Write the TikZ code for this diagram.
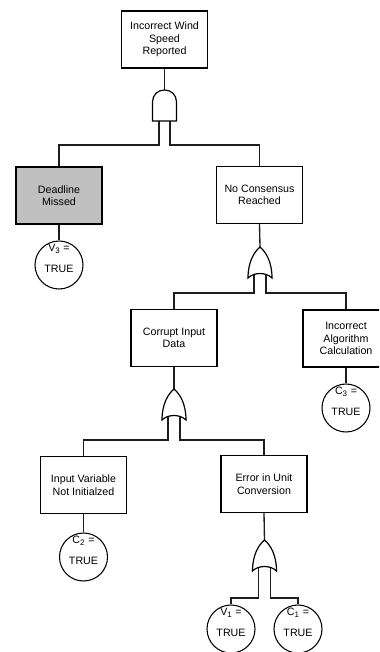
\documentclass[tikz,border=0pt]{standalone}
\usepackage{fontspec}
\setmainfont{Liberation Sans}
\usetikzlibrary{calc}
\definecolor{shade}{RGB}{192,192,192}
\definecolor{wirecol}{RGB}{30,30,30}
\begin{document}
\begin{tikzpicture}[x=0.75pt,y=-0.75pt,
  txt/.style={font=\fontsize{8}{9.4}\selectfont},
  event/.style={txt, draw, line width=0.9pt, minimum width=64.5pt,
    minimum height=42.75pt, align=center, inner sep=1pt, fill=white},
  basic/.style={draw, circle, line width=0.8pt, minimum size=36pt,
    inner sep=0pt, fill=white},
  gate/.style={draw, line width=0.9pt, fill=white},
  wire/.style={line width=1pt, draw=wirecol},
  andgate/.pic={
    \draw[gate] (-12,31) -- (-12,12) .. controls (-12,5) and (-7,0) .. (0,0)
      .. controls (7,0) and (12,5) .. (12,12) -- (12,31) -- cycle;
  },
  orgate/.pic={
    \draw[gate] (-12,31) .. controls (-12,15) and (-6,5) .. (0,0)
      .. controls (6,5) and (12,15) .. (12,31)
      .. controls (6,25) and (-6,25) .. cycle;
  },
]
\useasboundingbox (0,0) rectangle (379,652);
\clip (0,0) rectangle (379,652);
\fill[white] (0,0) rectangle (379,652);

% events
\node[event] (top) at (164.5,39.5) {Incorrect Wind\\Speed\\Reported};
\node[event, fill=shade] (dm) at (59,195.5) {Deadline\\Missed};
\node[event] (nc) at (259.5,195) {No Consensus\\Reached};
\node[event] (cid) at (174,338) {Corrupt Input\\Data};
\node[event] (iac) at (346,338.5) {Incorrect\\Algorithm\\Calculation};
\node[event] (ivn) at (83.5,485) {Input Variable\\Not Initialzed};
\node[event] (euc) at (264,484) {Error in Unit\\Conversion};

% conditions
\node[basic, label={[txt,yshift=12pt]center:V\textsubscript{3} =},
  label={[txt,yshift=-3pt]center:TRUE}] (v3) at (59,265) {};
\node[basic, label={[txt,yshift=12pt]center:C\textsubscript{3} =},
  label={[txt,yshift=-3pt]center:TRUE}] (c3) at (346,408) {};
\node[basic, label={[txt,yshift=12pt]center:C\textsubscript{2} =},
  label={[txt,yshift=-3pt]center:TRUE}] (c2) at (83.5,557) {};
\node[basic, label={[txt,yshift=12pt]center:V\textsubscript{1} =},
  label={[txt,yshift=-3pt]center:TRUE}] (v1) at (231,629) {};
\node[basic, label={[txt,yshift=12pt]center:C\textsubscript{1} =},
  label={[txt,yshift=-3pt]center:TRUE}] (c1) at (298,629) {};

% gate wiring (drawn beneath the gates)
\coordinate (a1) at (164.5,90);
\coordinate (o1) at (260,247);
\coordinate (o2) at (174,389);
\coordinate (o3) at (264.5,540);

\draw[wire] (top.south) -- (a1);
\draw[wire] ($(a1)+(-5.5,31)$) -- ++(0,24) -| (dm.north);
\draw[wire] ($(a1)+(5.5,31)$) -- ++(0,24) -| (nc.north);
\draw[wire] (dm.south) -- (v3.north);

\draw[wire] (nc.south) -- (o1);
\draw[wire] ($(o1)+(-6,27)$) -- (254,293) -| (cid.north);
\draw[wire] ($(o1)+(6,27)$) -- (266,293) -| (iac.north);
\draw[wire] (iac.south) -- (c3.north);

\draw[wire] (cid.south) -- (o2);
\draw[wire] ($(o2)+(-6,27)$) -- (168,440) -| (ivn.north);
\draw[wire] ($(o2)+(6,27)$) -- (180,440) -| (euc.north);
\draw[wire] (ivn.south) -- (c2.north);

\draw[wire] (euc.south) -- (o3);
\draw[wire] ($(o3)+(-6,27)$) -- (258.5,598) -| (v1.north);
\draw[wire] ($(o3)+(6,27)$) -- (270.5,598) -| (c1.north);

% gates
\pic (and1) at (a1) {andgate};
\pic (or1) at (o1) {orgate};
\pic (or2) at (o2) {orgate};
\pic (or3) at (o3) {orgate};
\end{tikzpicture}
\end{document}
